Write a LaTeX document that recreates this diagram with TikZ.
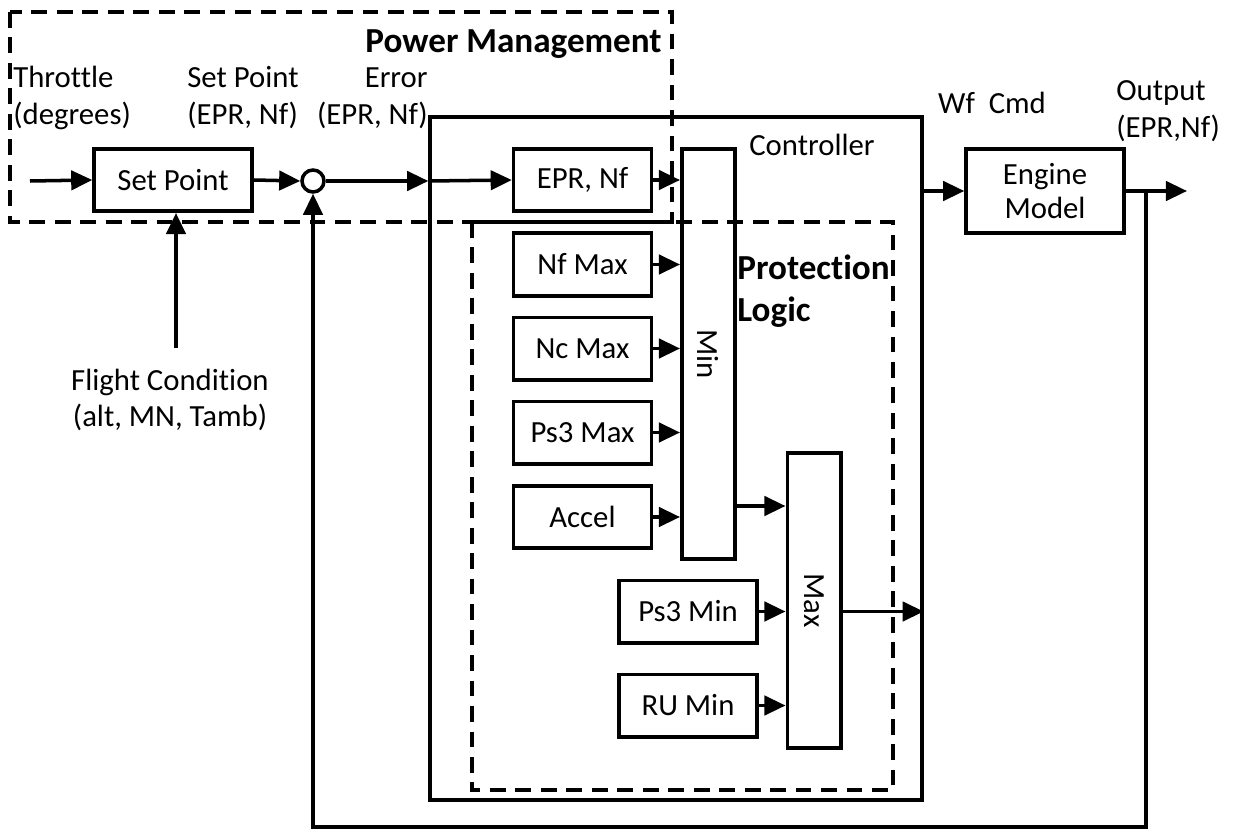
\documentclass[tikz,border=0pt]{standalone}
\usepackage{fontspec}
\setmainfont{Carlito}[Ligatures=NoCommon]
\usetikzlibrary{arrows.meta}

\tikzset{
  blk/.style={draw, line width=2pt, minimum width=2.76cm, minimum height=1.25cm, inner sep=0pt},
  bar/.style={draw, line width=2pt, minimum width=1.07cm, inner sep=0pt},
  sig/.style={line width=2pt, -{Triangle[length=12pt,width=11pt]}},
  grp/.style={line width=2pt, dash pattern=on 9pt off 5.5pt},
  lbl/.style={inner sep=0pt, align=left},
  head/.style={lbl, font=\fontsize{20}{24}\selectfont\bfseries},
}

\begin{document}
\begin{tikzpicture}[x=0.02cm, y=-0.02cm, font=\fontsize{17.5}{21}\selectfont]
\useasboundingbox (0,0) rectangle (1233,831);

% dashed groups
\draw[grp] (10,12) rectangle (672,222);
\draw[grp] (472,222) rectangle (893,790);

% controller
\node[draw, line width=2pt, minimum width=9.84cm, minimum height=13.66cm] (ctrl) at (676,458.5) {};
\node (ctrllbl) at (812,145) {Controller};

% power management part
\node[blk, minimum width=3.16cm] (setpt) at (173,180) {Set Point};
\node[draw, circle, line width=2pt, minimum size=0.44cm, inner sep=0pt] (sum) at (313,181) {};
\node[blk] (eprnf) at (582.5,180) {EPR, Nf};

% limiters
\node[blk] (nfmax) at (582.5,264.5) {Nf Max};
\node[blk] (ncmax) at (582.5,348.5) {Nc Max};
\node[blk] (ps3max) at (582.5,432.5) {Ps3 Max};
\node[blk] (accel) at (582.5,517) {Accel};
\node[blk] (ps3min) at (688,611.5) {Ps3 Min};
\node[blk] (rumin) at (688,705.5) {RU Min};

\node[bar, minimum height=8.2cm] (min) at (708.5,354) {};
\node[rotate=-90] (mintxt) at (min) {Min};
\node[bar, minimum height=5.9cm] (max) at (814,600.5) {};
\node[rotate=-90] (maxtxt) at (max) {Max};

\node[blk, minimum width=3.16cm, minimum height=1.68cm, align=center] (engine) at (1045,191) {Engine\\[-2pt]Model};

% labels
\node[head, anchor=east] (pmlbl) at (662,44) {Power Management};
\node[lbl, anchor=west] (thr) at (13,98) {Throttle\\(degrees)};
\node[lbl, anchor=west] (splbl) at (187,98) {Set Point\\(EPR, Nf)};
\node[lbl, anchor=east, align=right] (errlbl) at (428,98) {Error\\(EPR, Nf)};
\node[head, anchor=west] (plbl) at (737,291) {Protection\\Logic};
\node[lbl] (wflbl) at (992,103) {Wf\ \ Cmd};
\node[lbl, anchor=west] (outlbl) at (1116,111) {Output\\(EPR,Nf)};
\node[lbl, align=center] (fc) at (170,400) {Flight Condition\\(alt, MN, Tamb)};

% end points
\coordinate (in) at (30,181);
\coordinate (out) at (1187,191);
\coordinate (fb) at (1146,191);
\coordinate (fbb) at (1146,827);
\coordinate (fcin) at (176,348);
\coordinate (minout) at (735,506);

% signals
\draw[sig] (in) -- (setpt.west);
\draw[sig] (setpt.east) -- (sum.west);
\draw[sig] (fcin) -- (fcin |- setpt.south);
\draw[sig] (sum.east) -- (sum.east -| ctrl.west);
\draw[sig] (sum.east -| ctrl.west) -- (eprnf.west);
\foreach \b in {eprnf,nfmax,ncmax,ps3max,accel}
  \draw[sig] (\b.east) -- (\b.east -| min.west);
\draw[sig] (minout) -- (minout -| max.west);
\draw[sig] (ps3min.east) -- (ps3min.east -| max.west);
\draw[sig] (rumin.east) -- (rumin.east -| max.west);
\draw[sig] (max.east |- ps3min) -- (ctrl.east |- ps3min);
\draw[sig] (engine.west -| ctrl.east) -- (engine.west);
\draw[sig] (engine.east) -- (out);
\draw[sig] (fb) -- (fbb) -| (sum.south);
\end{tikzpicture}
\end{document}
